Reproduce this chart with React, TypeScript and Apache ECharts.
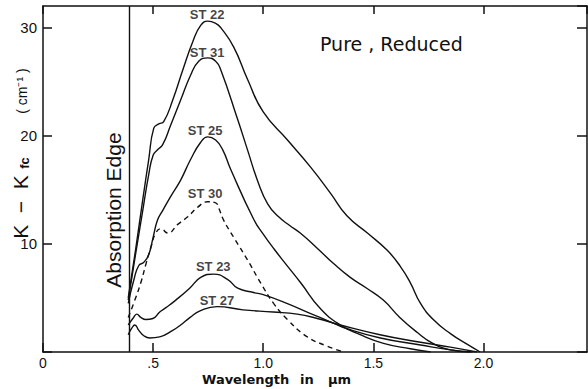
import React, { useEffect, useRef } from "react";
import * as echarts from "echarts";

// Wavelength (µm), K - Kfc (cm^-1)
const st22: number[][] = [[0.387,5.0],[0.42,9.4],[0.453,14.1],[0.48,17.8],[0.503,20.7],[0.526,21.1],[0.548,21.3],[0.589,23.3],[0.635,26.1],[0.68,28.7],[0.716,30.2],[0.748,30.6],[0.784,30.4],[0.807,30.0],[0.866,28.2],[0.929,25.2],[1.0,22.2],[1.11,19.6],[1.215,17.1],[1.305,14.7],[1.38,12.6],[1.473,11.0],[1.563,9.4],[1.623,7.9],[1.668,6.4],[1.714,4.5],[1.772,3.0],[1.85,1.7],[1.927,0.7],[1.985,0]];
const st31: number[][] = [[0.387,4.8],[0.42,9.0],[0.453,13.1],[0.48,16.4],[0.5,18.2],[0.52,18.7],[0.544,19.2],[0.58,21.0],[0.625,23.3],[0.67,25.6],[0.707,26.9],[0.748,27.2],[0.784,26.9],[0.807,26.1],[0.884,21.5],[0.93,18.6],[0.975,15.8],[1.02,13.7],[1.07,12.5],[1.12,11.7],[1.168,11.0],[1.245,9.6],[1.318,8.2],[1.395,6.9],[1.47,5.9],[1.545,4.8],[1.62,3.2],[1.7,1.8],[1.77,0.8],[1.85,0.2],[1.94,0]];
const st25: number[][] = [[0.387,4.5],[0.413,6.7],[0.435,8.0],[0.458,8.3],[0.48,9.0],[0.5,10.6],[0.52,12.2],[0.544,13.1],[0.58,14.4],[0.625,15.9],[0.67,17.8],[0.716,19.4],[0.748,19.9],[0.784,19.6],[0.816,18.7],[0.852,16.9],[0.956,12.3],[1.0,10.9],[1.05,9.5],[1.1,8.2],[1.17,6.4],[1.26,4.0],[1.35,2.5],[1.44,1.6],[1.546,0.8],[1.668,0.3],[1.76,0]];
const st30: number[][] = [[0.387,3.2],[0.417,4.8],[0.444,6.4],[0.467,8.1],[0.49,9.7],[0.512,11.0],[0.535,11.4],[0.567,11.0],[0.612,11.8],[0.657,12.5],[0.703,13.4],[0.748,13.9],[0.784,13.8],[0.798,13.3],[0.82,12.2],[0.866,10.6],[0.929,8.5],[0.988,6.4],[1.047,4.5],[1.11,3.0],[1.2,1.4],[1.283,0.6],[1.364,0]];
const st23: number[][] = [[0.387,2.5],[0.408,3.1],[0.426,3.5],[0.444,3.2],[0.467,3.0],[0.499,3.1],[0.53,3.7],[0.558,4.1],[0.603,4.8],[0.666,5.9],[0.716,6.9],[0.775,7.2],[0.839,6.7],[0.884,5.9],[0.956,5.5],[1.0,5.3],[1.107,4.5],[1.21,3.6],[1.315,2.7],[1.374,2.2],[1.532,1.3],[1.714,0.65],[1.85,0.2],[1.95,0]];
const st27: number[][] = [[0.387,1.6],[0.403,2.2],[0.417,2.5],[0.435,2.0],[0.458,1.5],[0.485,1.3],[0.53,1.4],[0.589,2.0],[0.625,2.5],[0.668,3.2],[0.713,3.8],[0.79,4.2],[0.908,3.9],[1.045,3.7],[1.154,3.5],[1.245,3.1],[1.35,2.5],[1.53,1.6],[1.714,0.9],[1.85,0.45],[1.97,0]];

const absorptionEdge = 0.387;

const curveNames = ["ST 22", "ST 31", "ST 25", "ST 30", "ST 23", "ST 27"];
const labelX = [0.745, 0.745, 0.736, 0.736, 0.773, 0.79];
const labelY = [31.2, 27.7, 20.5, 14.7, 7.9, 4.8];

const xTicks = [0, 0.5, 1.0, 1.5, 2.0];
const xTickLabels = ["0", ".5", "1.0", "1.5", "2.0"];
const yTickLabels = ["", "10", "20", "30"];

const FONT = "'Liberation Sans', Arial, sans-serif";
const WIDE = "'DejaVu Sans', sans-serif";

export default function App() {
  const ref = useRef<HTMLDivElement>(null);
  useEffect(() => {
    if (!ref.current) return;
    const chart = echarts.init(ref.current, undefined, { renderer: "svg" });
    const black = "#111";
    const axisBase = {
      type: "value" as const,
      axisLine: { show: true, onZero: false, lineStyle: { color: black, width: 1.5 } },
      splitLine: { show: false },
    };
    const curves = [st22, st31, st25, st30, st23, st27];
    const series: any[] = curves.map((d, i) => ({
      type: "line",
      name: curveNames[i],
      data: d,
      showSymbol: false,
      symbol: "none",
      smooth: 0.5,
      lineStyle: { color: black, width: 1.4, type: i === 3 ? [5, 4] : "solid" },
      z: 3,
      ...(i === 0
        ? {
            markLine: {
              silent: true,
              symbol: ["none", "none"],
              label: { show: false },
              lineStyle: { color: black, type: "solid", width: 1.4 },
              data: [{ xAxis: absorptionEdge }],
            },
          }
        : {}),
    }));
    series.push({
      type: "scatter",
      name: "labels",
      symbolSize: 1,
      itemStyle: { color: "transparent" },
      data: curveNames.map((n, i) => ({ value: [labelX[i], labelY[i]], name: n })),
      label: {
        show: true,
        position: "inside",
        formatter: (p: any) => p.name,
        color: black,
        fontFamily: FONT,
        fontWeight: "bold",
        fontSize: 13,
      },
      z: 5,
    });
    const rotText = (text: string, x: number, y: number, font: string) => ({
      type: "text",
      x,
      y,
      rotation: Math.PI / 2,
      style: {
        text,
        font,
        fill: black,
        align: "center",
        verticalAlign: "middle",
        textAlign: "center",
        textVerticalAlign: "middle",
      },
    });
    const leftText = (text: string, x: number, y: number, font: string) => ({
      type: "text",
      x,
      y,
      style: {
        text,
        font,
        fill: black,
        align: "left",
        verticalAlign: "middle",
        textAlign: "left",
        textVerticalAlign: "middle",
      },
    });
    chart.setOption({
      animation: false,
      backgroundColor: "#fff",
      grid: { left: 43, right: 1, top: 6, bottom: 37 },
      xAxis: [
        {
          ...axisBase,
          position: "bottom",
          min: 0,
          max: 2.47,
          interval: 0.5,
          axisTick: { show: true, inside: true, length: 9, lineStyle: { color: black, width: 1.5 } },
          axisLabel: {
            show: true,
            showMaxLabel: false,
            margin: 4,
            color: black,
            fontFamily: FONT,
            fontSize: 14,
            formatter: (v: number) => {
              const k = xTicks.findIndex((t) => Math.abs(t - v) < 1e-6);
              return k >= 0 ? xTickLabels[k] : "";
            },
          },
        },
        {
          ...axisBase,
          position: "top",
          min: 0,
          max: 2.47,
          interval: 0.5,
          axisTick: { show: true, inside: true, length: 8, lineStyle: { color: black, width: 1.5 } },
          axisLabel: { show: false },
        },
      ],
      yAxis: [
        {
          ...axisBase,
          position: "left",
          min: 0,
          max: 32,
          interval: 10,
          axisTick: { show: true, inside: true, length: 9, lineStyle: { color: black, width: 1.5 } },
          axisLabel: {
            show: true,
            showMaxLabel: false,
            margin: 6,
            color: black,
            fontFamily: FONT,
            fontSize: 15,
            formatter: (v: number) => {
              const k = Math.round(v / 10);
              return Math.abs(v - k * 10) < 1e-6 && k < yTickLabels.length ? yTickLabels[k] : "";
            },
          },
        },
        {
          ...axisBase,
          position: "right",
          min: 0,
          max: 32,
          interval: 10,
          axisTick: { show: true, inside: true, length: 10, lineStyle: { color: black, width: 1.5 } },
          axisLabel: { show: false },
        },
      ],
      series,
      graphic: [
        leftText("Pure , Reduced", 320, 44, `19px ${WIDE}`),
        rotText("Absorption Edge", 113, 210, `21px ${FONT}`),
        rotText("K  −  K", 20, 207, `21px ${FONT}`),
        rotText("fc", 24, 163, `bold 13px ${FONT}`),
        rotText("( cm⁻¹ )", 22, 91, `14px ${FONT}`),
        leftText("Wavelength", 202, 379, `bold 13px ${WIDE}`),
        leftText("in", 300, 379, `bold 13px ${WIDE}`),
        leftText("μm", 328, 379, `bold 13px ${WIDE}`),
      ],
    });
    return () => chart.dispose();
  }, []);
  return <div ref={ref} style={{ width: 588, height: 389, position: "absolute", left: 0, top: 0 }} />;
}
